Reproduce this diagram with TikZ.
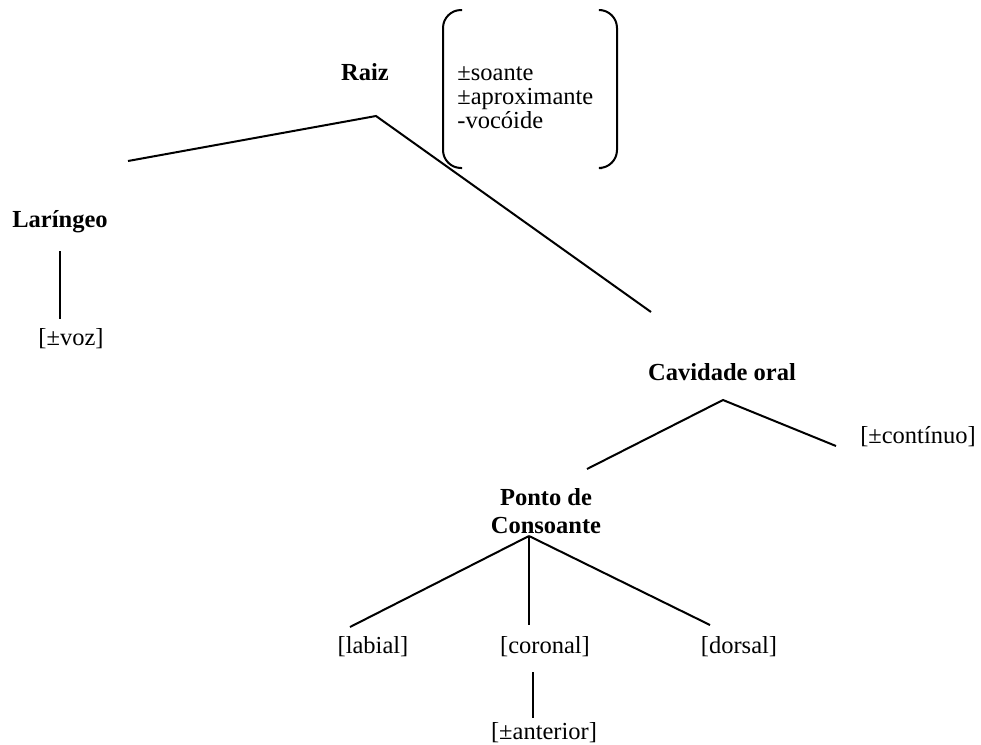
\documentclass[tikz,border=0pt]{standalone}
\usepackage{fontspec}
\setmainfont{Liberation Serif}
\usetikzlibrary{positioning}

\begin{document}
\begin{tikzpicture}[
    x=0.5pt, y=-0.5pt,
    feat/.style={inner sep=0pt, anchor=base, font=\fontsize{12.25}{12}\selectfont},
    tier/.style={feat, font=\fontsize{12.25}{14}\selectfont\bfseries, align=center},
    branch/.style={line width=1pt},
    brack/.style={line width=1pt, rounded corners=9pt}
]
\useasboundingbox (0,0) rectangle (981,745);

% Tier nodes
\node[tier] (raiz) at (365,80) {Raiz};
\node[tier] (laringeo) at (60,227) {Laríngeo};
\node[tier] (cavidade) at (722,380) {Cavidade oral};
\node[tier] (ponto) at (546,533) {Ponto de\\Consoante};

% Features
\node[feat, align=left, anchor=base west] (raizfeat) at (457,128) {±soante\\±aproximante\\-vocóide};
\node[feat] (voz) at (71,345) {[±voz]};
\node[feat] (continuo) at (918,443) {[±contínuo]};
\node[feat] (labial) at (373,653) {[labial]};
\node[feat] (coronal) at (545,653) {[coronal]};
\node[feat] (dorsal) at (739,653) {[dorsal]};
\node[feat] (anterior) at (544,739) {[±anterior]};

% Bracket round the root features
\draw[brack] (462,10) -- (443,10) -- (443,168) -- (462,168);
\draw[brack] (602,10) -- (617,10) -- (617,168) -- (602,168);

% Branch points
\coordinate (raizJ) at (376,116);
\coordinate (larJ) at (128,161);
\coordinate (cavJ) at (651,312);
\coordinate (larB) at (60,251);
\coordinate (vozT) at (60,319);
\coordinate (cavB) at (723,400);
\coordinate (pontoT) at (587,469);
\coordinate (contT) at (836,446);
\coordinate (pontoB) at (529,536);
\coordinate (labT) at (350,627);
\coordinate (corT) at (529,625);
\coordinate (dorT) at (710,625);
\coordinate (corB) at (533,672);
\coordinate (antT) at (533,718);

% Branches
\draw[branch] (larJ) -- (raizJ) -- (cavJ);
\draw[branch] (larB) -- (vozT);
\draw[branch] (pontoT) -- (cavB) -- (contT);
\draw[branch] (pontoB) -- (labT);
\draw[branch] (pontoB) -- (corT);
\draw[branch] (pontoB) -- (dorT);
\draw[branch] (corB) -- (antT);

\end{tikzpicture}
\end{document}
